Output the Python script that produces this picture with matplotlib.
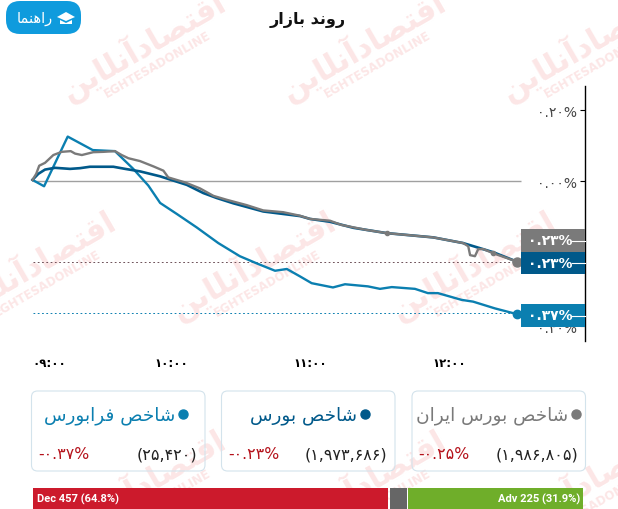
#!/usr/bin/python
# -*- coding: utf-8 -*-
import matplotlib
matplotlib.use("Agg")
import matplotlib.pyplot as plt
from matplotlib.patches import FancyBboxPatch, Rectangle, Polygon

#----------------------------------------------------------------
# Data (minutes after 09:00, percent change)
#----------------------------------------------------------------
fara_min = [0, 5.0, 15.2, 26, 35.6, 43.5, 50, 55.1, 62.3, 70.9, 80.2, 89.5, 96.7, 104.7, 109.8, 115.5, 120.5,
            129.7, 134.9, 144.8, 150, 155.1, 165.1, 170.7, 175, 185.2, 190.2, 199.6, 209]
fara_pct = [.004, -.014, .126, .088, .085, .035, -.012, -.061, -.092, -.130, -.174, -.211, -.231, -.252, -.247,
            -.268, -.287, -.299, -.290, -.296, -.303, -.298, -.303, -.315, -.315, -.334, -.339, -.358, -.374]

bourse_min = [0, 2.5, 5.4, 9.7, 16.2, 20.5, 24.8, 34.9, 40, 46.4, 55.1, 59.4, 66.6, 73.7, 79.5, 86.7, 99.6, 108.2,
              115.5, 119.8, 128.4, 138.5, 152.9, 173, 185.9, 199, 209]
bourse_pct = [.004, .021, .033, .038, .035, .037, .041, .041, .035, .028, .014, .005, -.010, -.033, -.047, -.062,
              -.085, -.092, -.098, -.106, -.114, -.131, -.146, -.158, -.174, -.200, -.226]

iran_min = [0, 1.6, 2.9, 5.4, 9, 12.6, 16.5, 18.4, 21.3, 26.2, 30.6, 35.6, 38.5, 41.4, 46.4, 52.2, 56.5, 58.6, 65.8,
            72.3, 78.1, 83.8, 92.4, 99.6, 108.2, 115.5, 119.8, 128.4, 133.4, 144.2, 152.9, 173, 185.9, 188.1, 188.9,
            191, 192.4, 194.6, 199, 209]
iran_pct = [.004, .021, .044, .052, .074, .083, .085, .078, .074, .082, .083, .085, .074, .065, .057, .042, .030, .011,
            -.003, -.020, -.041, -.052, -.067, -.082, -.087, -.097, -.106, -.111, -.123, -.137, -.146, -.158, -.174,
            -.183, -.208, -.211, -.191, -.191, -.203, -.226]

y_ticks = [0.20, 0.0, -0.408]
y_labels = ["۰.۲۰%", "۰.۰۰%", "۰.۴۰%"]
x_ticks = [0, 60, 120, 180]
x_labels = ["۰۹:۰۰", "۱۰:۰۰", "۱۱:۰۰", "۱۲:۰۰"]

card_names = ["شاخص فرابورس", "شاخص بورس", "شاخص بورس ایران"]
card_values = ["(۲۵,۴۲۰)", "(۱,۹۷۳,۶۸۶)", "(۱,۹۸۶,۸۰۵)"]
card_changes = ["-۰.۳۷%", "-۰.۲۳%", "-۰.۲۵%"]
end_labels = ["۰.۲۳%", "۰.۲۳%", "۰.۳۷%"]

#colors
GRAY = "#7a7a7a"
DARK = "#00598a"
TEAL = "#0b7fb0"
RED = "#b5121b"
WM = "#fce6e6"

#----------------------------------------------------------------
# matplotlib does not join Arabic letters, so pick the forms by hand
#----------------------------------------------------------------
FORMS = {"ا": "\ufe8d\ufe8e", "آ": "\ufe81\ufe82", "د": "\ufea9\ufeaa", "ر": "\ufead\ufeae", "ز": "\ufeaf\ufeb0",
         "و": "\ufeed\ufeee", "ب": "\ufe8f\ufe90\ufe91\ufe92", "ت": "\ufe95\ufe96\ufe97\ufe98",
         "خ": "\ufea5\ufea6\ufea7\ufea8", "ش": "\ufeb5\ufeb6\ufeb7\ufeb8", "ص": "\ufeb9\ufeba\ufebb\ufebc",
         "ف": "\ufed1\ufed2\ufed3\ufed4", "ق": "\ufed5\ufed6\ufed7\ufed8", "ل": "\ufedd\ufede\ufedf\ufee0",
         "م": "\ufee1\ufee2\ufee3\ufee4", "ن": "\ufee5\ufee6\ufee7\ufee8", "ه": "\ufee9\ufeea\ufeeb\ufeec",
         "ی": "\ufbfc\ufbfd\ufbfe\ufbff"}

def fa(s):
    out = []
    for i, c in enumerate(s):
        if c not in FORMS:
            out.append(c)
            continue
        prev_joins = i > 0 and s[i-1] in FORMS and len(FORMS[s[i-1]]) == 4
        next_joins = i < len(s)-1 and s[i+1] in FORMS
        if len(FORMS[c]) == 2:
            out.append(FORMS[c][1 if prev_joins else 0])
        else:
            out.append(FORMS[c][(3 if next_joins else 1) if prev_joins else (2 if next_joins else 0)])
    return "".join(reversed(out))

plt.rcParams["font.family"] = ["DejaVu Sans"]

fig = plt.figure(figsize=(6.18, 5.10), dpi=100)

# pixel layers: back for the watermark, front for the boxes and cards
back = fig.add_axes([0, 0, 1, 1], zorder=0)
front = fig.add_axes([0, 0, 1, 1], zorder=2)
for a in (back, front):
    a.set_xlim(0, 618)
    a.set_ylim(510, 0)
    a.axis("off")

#----------------------------------------------------------------
# Watermark
#----------------------------------------------------------------
for cx, cy in [(143, 46), (363, 46), (583, 46), (33, 265), (253, 265), (473, 265), (143, 484), (363, 484), (583, 484)]:
    back.text(cx, cy, fa("اقتصادآنلاین"), color=WM, fontsize=22, fontweight="bold", rotation=30,
              ha="center", va="center", rotation_mode="anchor")
    back.text(cx+15, cy+19, "EGHTESADONLINE", color=WM, fontsize=8.5, fontweight="bold", rotation=30,
              ha="center", va="center", rotation_mode="anchor")

#----------------------------------------------------------------
# Chart
#----------------------------------------------------------------
ax = fig.add_axes([0, 1-342/510, 585/618, (342-87)/510], zorder=1)
ax.patch.set_alpha(0)
ax.set_xlim(-14.03, 238.5)
ax.set_ylim(-0.4499, 0.2685)
for s in ("top", "left", "bottom"):
    ax.spines[s].set_visible(False)
ax.spines["right"].set_linewidth(1.0)

ax.hlines(0, 0, 211, color="#a0a0a0", lw=1)
ax.hlines(-0.2274, 0, 209, color="#6d5058", lw=0.7, ls=(0, (1.8, 2.6)))
ax.hlines(-0.372, 0, 209, color=TEAL, lw=0.7, ls=(0, (1.8, 2.6)))

ax.plot(fara_min, fara_pct, color=TEAL, lw=1.7)
ax.plot(bourse_min, bourse_pct, color=DARK, lw=1.9)
ax.plot(iran_min, iran_pct, color=GRAY, lw=1.7)
ax.plot(iran_min[-1], iran_pct[-1], "o", color=GRAY, ms=6.5)
ax.plot(fara_min[-1], fara_pct[-1], "o", color=TEAL, ms=6)
ax.plot([iran_min[30], iran_min[38]], [iran_pct[30], iran_pct[38]], "o", color=GRAY, ms=3)

ax.yaxis.tick_right()
ax.set_yticks(y_ticks, y_labels)
ax.tick_params(axis="y", direction="in", length=3.5, width=0.8, pad=-6, labelsize=10, labelcolor="#444444")
for t in ax.get_yticklabels():
    t.set_ha("right")

ax.set_xticks(x_ticks, x_labels)
ax.tick_params(axis="x", length=0, pad=11, labelsize=8.5)
for t in ax.get_xticklabels():
    t.set_fontweight("bold")
ax.get_xticklabels()[0].set_ha("left")

#----------------------------------------------------------------
# End value boxes
#----------------------------------------------------------------
for y0, y1, col, lab in zip([230, 253, 305], [253, 275, 328], [GRAY, DARK, TEAL], end_labels):
    front.add_patch(Rectangle((521, y0), 64, y1-y0, color=col, lw=0))
    front.text(550, (y0+y1)/2, lab, color="white", fontsize=10, fontweight="bold", ha="center", va="center")
    front.plot([572, 585], [(y0+y1)/2, (y0+y1)/2], color="white", lw=0.8)

#----------------------------------------------------------------
# Header
#----------------------------------------------------------------
front.text(308, 20, fa("روند بازار"), fontsize=11.5, fontweight="bold", ha="center", va="center", color="#111111")
front.add_patch(FancyBboxPatch((6, 2), 75, 33, boxstyle="round,pad=0,rounding_size=14", color="#0f9bdd", lw=0))
front.text(35, 19, fa("راهنما"), color="white", fontsize=10.5, ha="center", va="center")
front.add_patch(Polygon([(57, 18), (66, 13), (75, 18), (66, 22)], color="white", lw=0))
front.add_patch(Polygon([(60, 21), (66, 24), (72, 21), (72, 25), (60, 25)], color="white", lw=0))

#----------------------------------------------------------------
# Cards
#----------------------------------------------------------------
card_left = [31.5, 221.5, 412]
card_colors = [TEAL, DARK, GRAY]
name_right = [175, 357, 568]
for x0, name, val, chg, col, nr in zip(card_left, card_names, card_values, card_changes, card_colors, name_right):
    front.add_patch(FancyBboxPatch((x0, 392), 173.5, 80, boxstyle="round,pad=0,rounding_size=6",
                                   fc="none", ec="#d3e3ec", lw=0.8))
    front.text(nr, 416, fa(name), color=col, fontsize=13.3, ha="right", va="center")
    front.plot(nr+7.5, 415, "o", color=col, ms=6.5)
    front.text(x0+166, 455, val, color="#222222", fontsize=11.5, ha="right", va="center")
    front.text(x0+6.5, 455, chg, color=RED, fontsize=11.3, ha="left", va="center")

#----------------------------------------------------------------
# Advance / decline bar
#----------------------------------------------------------------
front.add_patch(Rectangle((33, 489), 355, 21, color="#cc1a2c", lw=0))
front.add_patch(Rectangle((389.5, 489), 17.5, 21, color="#666666", lw=0))
front.add_patch(Rectangle((408, 489), 175, 21, color="#6fae2a", lw=0))
front.text(37, 499, "Dec 457 (64.8%)", color="white", fontsize=8, fontweight="bold", family="Roboto",
           ha="left", va="center")
front.text(580, 499, "Adv 225 (31.9%)", color="white", fontsize=8, fontweight="bold", family="Roboto",
           ha="right", va="center")

fig.savefig("out.png", dpi=100)
